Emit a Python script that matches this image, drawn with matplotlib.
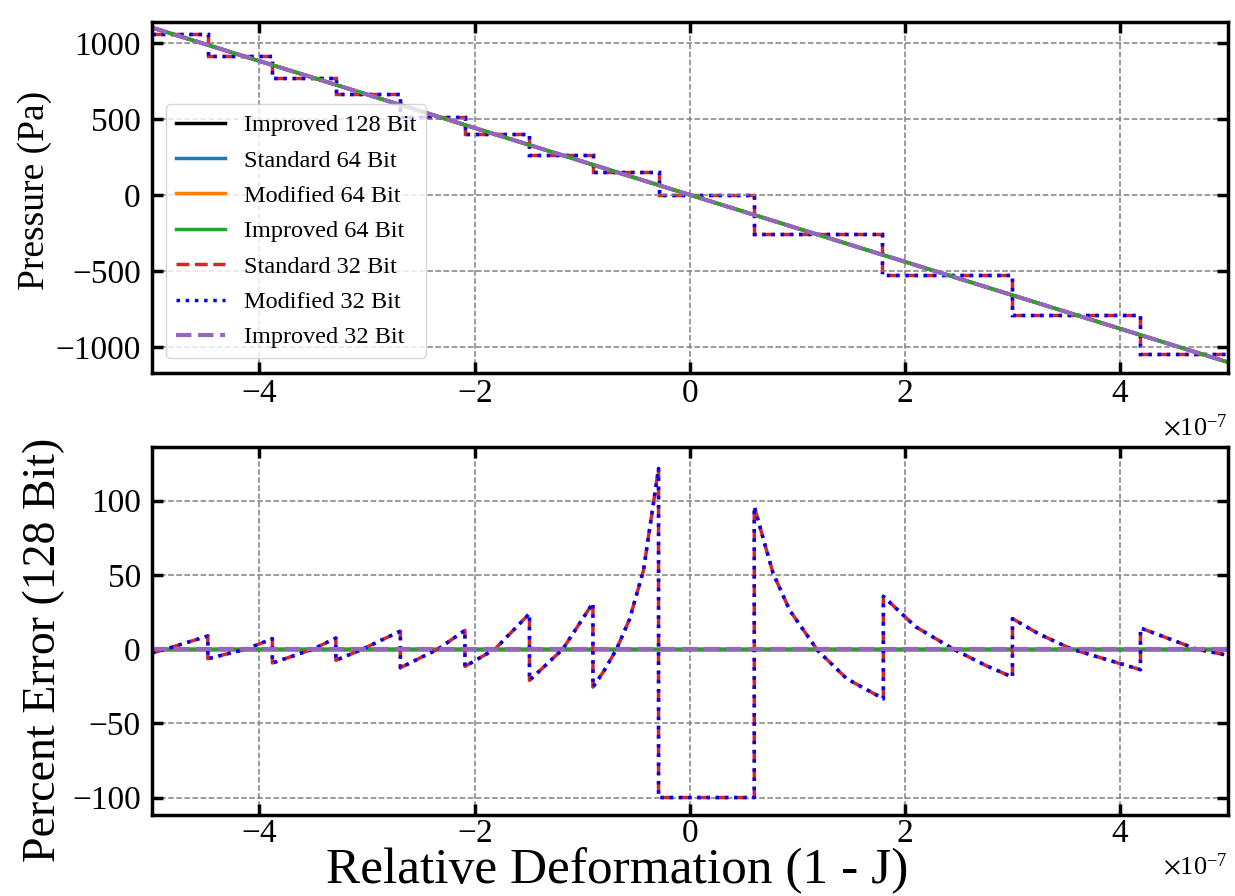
import matplotlib
matplotlib.use("Agg")
import matplotlib.pyplot as plt

plt.rcParams['font.family'] = ['Liberation Serif', 'DejaVu Serif']
plt.rcParams['mathtext.fontset'] = 'stix'

# x in units of 1e-7 (scaled below)
x_range = [-5.0, 5.0]
p_exact = [1100, -1100]

step_edges = [-5.0, -4.48, -3.88, -3.29, -2.69, -2.09, -1.49, -0.90, -0.29,
              0.60, 1.79, 3.00, 4.19, 5.0]
step_levels = [1060, 915, 770, 660, 512, 402, 259, 149, 0, -255, -530, -790, -1049]

err_zero = [0, 0]
err_x = [-5.0, -4.87, -4.48,
         -4.48, -4.12, -3.88,
         -3.88, -3.50, -3.29,
         -3.29, -3.04, -2.69,
         -2.69, -2.34, -2.09,
         -2.09, -1.81, -1.49,
         -1.49, -1.18, -0.90,
         -0.90, -0.80, -0.68, -0.56, -0.43, -0.34, -0.29,
         -0.29, 0.60,
         0.60, 0.70, 0.775, 0.93, 1.19, 1.46, 1.80,
         1.80, 2.10, 2.45, 2.75, 3.00,
         3.00, 3.25, 3.55, 4.19,
         4.19, 4.71, 5.0]
err_y = [-2.7, 0, 8.8,
         -6.5, 0, 7.0,
         -9.4, 0, 7.4,
         -7.6, 0, 12.1,
         -12.6, 0, 12.6,
         -11.7, 0, 23.9,
         -21.1, 0, 31.0,
         -25.6, -15, 0, 20, 53, 97, 121.6,
         -100, -100,
         96, 70, 51, 26, -1, -20, -33.5,
         35.5, 15, 0, -11, -18.9,
         20.5, 10, 0, -13.9,
         14.2, 0, -4.2]

scale = 1e-7
xs = [v * scale for v in x_range]
edges = [v * scale for v in step_edges]
exs = [v * scale for v in err_x]

fig = plt.figure(figsize=(12.35, 8.96), dpi=100)
ax1 = fig.add_axes([0.123, 0.584, 0.871, 0.392])
ax2 = fig.add_axes([0.123, 0.090, 0.871, 0.411])

solid = [("Improved 128 Bit", "black"), ("Standard 64 Bit", "tab:blue"),
         ("Modified 64 Bit", "tab:orange"), ("Improved 64 Bit", "tab:green")]

for lab, c in solid:
    ax1.plot(xs, p_exact, color=c, lw=2.5, label=lab)
    ax2.plot(xs, err_zero, color=c, lw=2.5)
ax1.stairs(step_levels, edges, baseline=None, color="tab:red", ls="--", lw=2.5,
           label="Standard 32 Bit")
ax1.stairs(step_levels, edges, baseline=None, color="blue", ls=":", lw=2.5,
           label="Modified 32 Bit")
ax1.plot(xs, p_exact, color="tab:purple", ls="--", lw=3, label="Improved 32 Bit")

ax2.plot(exs, err_y, color="tab:red", ls="--", lw=2.5)
ax2.plot(exs, err_y, color="blue", ls=":", lw=2.5)
ax2.plot(xs, err_zero, color="tab:purple", ls="--", lw=3)

ax1.set_ylim(-1170, 1140)
ax1.set_yticks([-1000, -500, 0, 500, 1000])
ax2.set_ylim(-112, 136)
ax2.set_yticks([-100, -50, 0, 50, 100])

for ax in (ax1, ax2):
    ax.set_xlim(-5e-7, 5e-7)
    ax.ticklabel_format(axis="x", style="sci", scilimits=(0, 0), useMathText=True)
    ax.xaxis.get_offset_text().set_fontsize(19)
    ax.grid(True, color="gray", ls="--", lw=1.1)
    ax.tick_params(direction="in", top=True, right=True, length=8, width=2.5,
                   labelsize=24)
    ax.tick_params(axis="y", pad=8)
    for s in ax.spines.values():
        s.set_linewidth(2.5)
ax1.tick_params(axis="x", pad=4)
ax2.tick_params(axis="x", pad=2)

ax1.set_ylabel("Pressure (Pa)", fontsize=27)
ax2.set_ylabel("Percent Error (128 Bit)", fontsize=33)
ax1.yaxis.set_label_coords(-0.093, 0.52)
ax2.yaxis.set_label_coords(-0.081, 0.45)
fig.supxlabel("Relative Deformation (1 - J)", fontsize=37, y=0.002)

ax1.legend(loc="lower left", fontsize=17.5, labelspacing=0.55, handlelength=2.0,
           borderaxespad=0.6)

fig.savefig("out.png", dpi=100)
